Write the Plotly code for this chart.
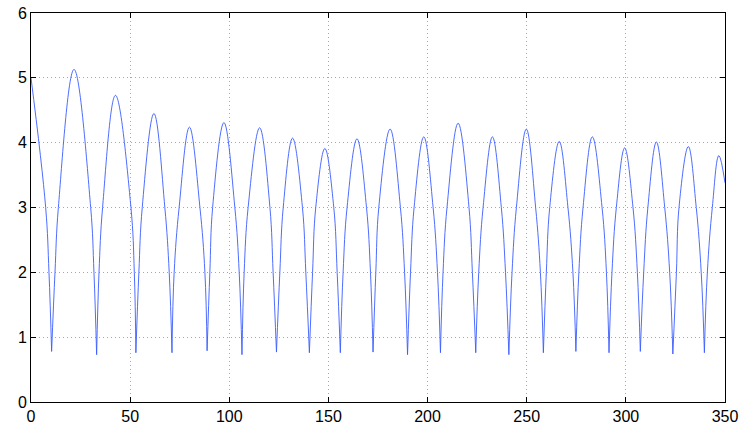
import plotly.graph_objects as go

# Values
start_point = (0.0, 5.0)
end_point = (350.0, 3.38)

trough_x = [10.4, 33.1, 52.9, 71.1, 88.8, 106.4, 123.8, 140.4, 156.0, 172.5,
            189.9, 206.5, 224.3, 241.0, 258.4, 274.8, 291.5, 307.3, 323.7, 339.6]
trough_y = [0.78, 0.73, 0.76, 0.76, 0.79, 0.73, 0.77, 0.76, 0.76, 0.77,
            0.73, 0.76, 0.76, 0.73, 0.76, 0.78, 0.76, 0.78, 0.74, 0.76]

peak_x = [21.7, 42.6, 62.0, 79.9, 97.3, 115.3, 131.9, 148.2, 164.4, 181.1,
          198.1, 215.4, 232.7, 249.8, 266.4, 283.1, 299.4, 315.4, 331.5, 346.9]
peak_y = [5.13, 4.73, 4.45, 4.24, 4.31, 4.23, 4.07, 3.91, 4.06, 4.21,
          4.09, 4.30, 4.09, 4.21, 4.02, 4.09, 3.92, 4.01, 3.94, 3.80]

# x where the curve crosses y=2 and y=3 on the way up (after each trough)
up2_x = [12.1, 34.3, 54.4, 72.2, 90.2, 107.5, 125.5, 142.0, 157.4, 173.9,
         191.4, 207.8, 225.8, 242.6, 259.9, 276.3, 293.0, 309.0, 325.5, 341.1]
up3_x = [13.8, 36.1, 56.1, 74.7, 91.6, 109.5, 127.2, 143.6, 159.4, 175.4,
         193.2, 209.8, 228.0, 244.8, 261.6, 278.4, 295.2, 311.1, 326.8, 343.6]
# x where the curve crosses y=3 and y=2 on the way down (before each trough)
down3_x = [7.4, 30.1, 50.4, 67.5, 85.2, 102.8, 120.5, 136.9, 152.7, 169.2,
           186.3, 202.8, 220.9, 237.2, 254.5, 270.8, 288.0, 303.6, 319.6, 335.5]
down2_x = [9.07, 31.75, 52.1, 69.7, 87.7, 105.0, 122.1, 138.6, 154.4, 171.2,
           188.4, 205.0, 222.6, 239.3, 256.9, 273.3, 290.2, 305.8, 322.1, 338.0]

x_ticks = [0, 50, 100, 150, 200, 250, 300, 350]
y_ticks = [0, 1, 2, 3, 4, 5, 6]

# Build arch segments (separated by None so each arch is smoothed on its own,
# keeping sharp cusps at the troughs)
xs, ys = [], []
xs += [start_point[0], down3_x[0], down2_x[0], trough_x[0], None]
ys += [start_point[1], 3, 2, trough_y[0], None]
n = len(trough_x)
for k in range(1, n):
    xs += [trough_x[k - 1], up2_x[k - 1], up3_x[k - 1], peak_x[k - 1],
           down3_x[k], down2_x[k], trough_x[k], None]
    ys += [trough_y[k - 1], 2, 3, peak_y[k - 1], 3, 2, trough_y[k], None]
xs += [trough_x[-1], up2_x[-1], up3_x[-1], peak_x[-1], end_point[0]]
ys += [trough_y[-1], 2, 3, peak_y[-1], end_point[1]]

fig = go.Figure()
fig.add_trace(go.Scatter(
    x=xs, y=ys, mode="lines",
    line=dict(color="#3a5cff", width=0.9, shape="spline", smoothing=1.1),
    connectgaps=False, showlegend=False, hoverinfo="skip",
))

axis_common = dict(
    showline=True, linecolor="black", linewidth=1, mirror="allticks",
    ticks="inside", ticklen=5, tickcolor="black",
    showgrid=True, gridcolor="#a8a8a8", griddash="1px,3px", gridwidth=1,
    zeroline=False, automargin=False,
    tickfont=dict(family="Liberation Sans, Arial, sans-serif", size=16, color="black"),
)

fig.update_layout(
    width=747, height=436,
    margin=dict(l=31, r=22, t=13, b=34),
    paper_bgcolor="white", plot_bgcolor="white",
    hovermode=False,
    xaxis=dict(range=[0, 350], tickvals=x_ticks, ticktext=[str(v) for v in x_ticks], **axis_common),
    yaxis=dict(range=[0, 6], tickvals=y_ticks, ticktext=[str(v) for v in y_ticks], **axis_common),
)

# Remove the default page margin so the figure sits at the window's corner.
fig.write_html("out.html", config={"displayModeBar": False},
               post_script="document.body.style.margin='0px';")
